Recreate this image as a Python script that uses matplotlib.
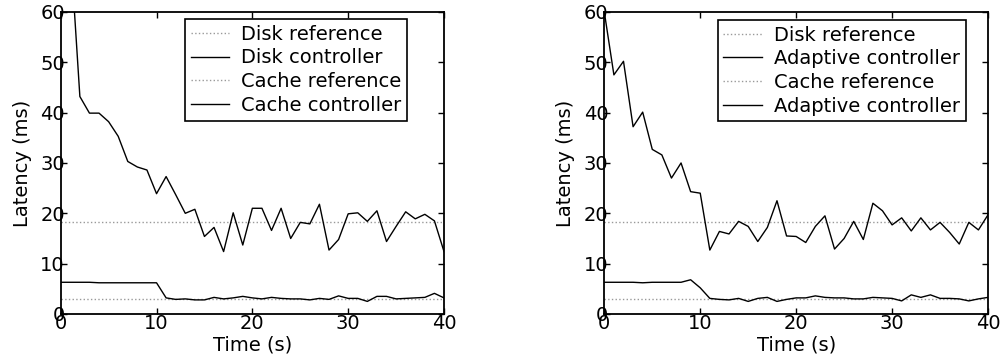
import matplotlib
matplotlib.use("Agg")
import matplotlib.pyplot as plt

plt.rcParams["font.family"] = ["DejaVu Sans"]

# time axis (s)
time = list(range(41))

# left panel
disk_ref_left = 18.2
cache_ref_left = 3.0
disk_ctrl_left = [120, 73, 43.2, 39.9, 39.9, 38.2, 35.3, 30.3, 29.2, 28.6,
                  23.9, 27.3, 23.7, 20.0, 20.8, 15.4, 17.2, 12.4, 20.1, 13.7,
                  21.0, 21.0, 16.6, 21.0, 15.0, 18.2, 17.9, 21.8, 12.7, 14.8,
                  19.9, 20.1, 18.4, 20.5, 14.4, 17.4, 20.3, 18.9, 19.8, 18.5,
                  12.4]
cache_ctrl_left = [6.3, 6.3, 6.3, 6.3, 6.2, 6.2, 6.2, 6.2, 6.2, 6.2,
                   6.2, 3.2, 2.9, 3.0, 2.8, 2.8, 3.3, 3.0, 3.2, 3.5,
                   3.2, 3.0, 3.3, 3.1, 3.0, 3.0, 2.8, 3.1, 2.9, 3.6,
                   3.1, 3.1, 2.5, 3.5, 3.5, 3.0, 3.1, 3.2, 3.3, 4.1,
                   3.2]

# right panel
disk_ref_right = 18.2
cache_ref_right = 3.0
disk_ctrl_right = [60.0, 47.5, 50.2, 37.2, 40.1, 32.7, 31.6, 27.0, 30.0, 24.3,
                   24.0, 12.7, 16.4, 15.9, 18.4, 17.4, 14.4, 17.2, 22.5, 15.5,
                   15.4, 14.2, 17.4, 19.5, 12.9, 15.0, 18.4, 14.8, 22.0, 20.5,
                   17.7, 19.1, 16.5, 19.1, 16.7, 18.2, 16.2, 13.9, 18.2, 16.7,
                   19.7]
cache_ctrl_right = [6.3, 6.3, 6.3, 6.3, 6.2, 6.3, 6.3, 6.3, 6.3, 6.8,
                    5.2, 3.1, 2.9, 2.8, 3.1, 2.5, 3.1, 3.3, 2.5, 2.9,
                    3.2, 3.2, 3.6, 3.3, 3.2, 3.2, 3.0, 3.0, 3.3, 3.2,
                    3.1, 2.6, 3.8, 3.3, 3.8, 3.1, 3.1, 3.0, 2.6, 3.0,
                    3.3]

FS = 14

fig = plt.figure(figsize=(10.05, 3.6), dpi=100)
ax1 = fig.add_axes([0.0604, 0.1278, 0.3814, 0.839])
ax2 = fig.add_axes([0.6013, 0.1278, 0.3818, 0.839])


def panel(ax, dref, dctrl, cref, cctrl, names, anchor):
    ax.plot([time[0], time[-1]], [dref, dref], ls=":", color="0.6", lw=1, label=names[0])
    ax.plot(time, dctrl, "-", color="k", lw=1, label=names[1])
    ax.plot([time[0], time[-1]], [cref, cref], ls=":", color="0.6", lw=1, label=names[2])
    ax.plot(time, cctrl, "-", color="k", lw=1, label=names[3])
    ax.set_xlim(0, 40)
    ax.set_ylim(0, 60)
    ax.set_xticks([0, 10, 20, 30, 40])
    ax.set_yticks([0, 10, 20, 30, 40, 50, 60])
    ax.tick_params(direction="in", length=4, width=1, top=True, right=True,
                   labelsize=FS)
    ax.tick_params(axis="x", pad=0)
    ax.tick_params(axis="y", pad=-3)
    for s in ax.spines.values():
        s.set_linewidth(1.3)
    ax.set_xlabel("Time (s)", fontsize=FS, labelpad=2)
    ax.set_ylabel("Latency (ms)", fontsize=FS, labelpad=6)
    leg = ax.legend(loc="upper right", bbox_to_anchor=anchor, fontsize=FS,
                    fancybox=False, framealpha=1, edgecolor="k",
                    borderaxespad=0, borderpad=0.3, labelspacing=0.24,
                    handlelength=2.0, handletextpad=0.6)
    leg.get_frame().set_linewidth(1.2)


panel(ax1, disk_ref_left, disk_ctrl_left, cache_ref_left, cache_ctrl_left,
      ["Disk reference", "Disk controller", "Cache reference", "Cache controller"],
      (0.904, 0.977))
panel(ax2, disk_ref_right, disk_ctrl_right, cache_ref_right, cache_ctrl_right,
      ["Disk reference", "Adaptive controller", "Cache reference", "Adaptive controller"],
      (0.942, 0.974))

fig.savefig("out.png", dpi=100)
